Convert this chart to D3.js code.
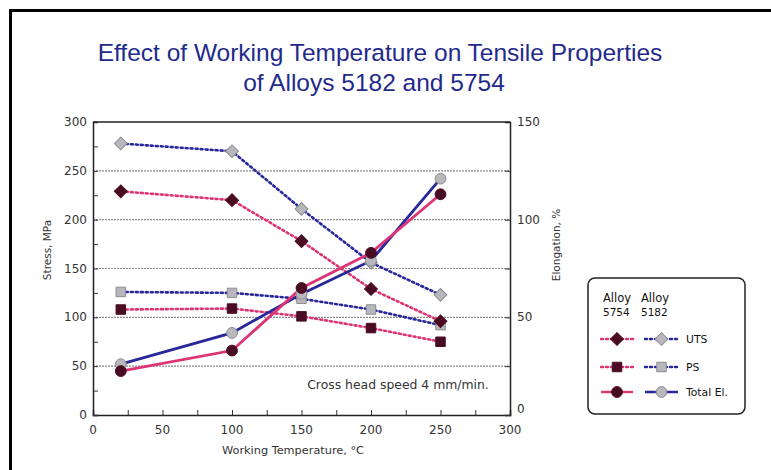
<!DOCTYPE html>
<html><head><meta charset="utf-8">
<script src="https://cdn.jsdelivr.net/npm/d3@7"></script>
<style>body{margin:0;background:#fff}svg{display:block}</style>
</head><body>
<svg id="c" width="771" height="470"></svg>
<script>
const temps = [20, 100, 150, 200, 250];
const uts5182 = [278, 270, 211, 156, 123];
const uts5754 = [229, 220, 178, 129, 96];
const ps5182 = [126, 125, 119, 108, 92];
const ps5754 = [108, 109, 101, 89, 75];
const el5182 = [26, 42, 62, 79, 121];
const el5754 = [22.5, 33, 65, 83, 113];
const xTicks = [0, 50, 100, 150, 200, 250, 300];
const yTicks = [0, 50, 100, 150, 200, 250, 300];
const y2Ticks = [0, 50, 100, 150];

const svg = d3.select("#c");
const font = "Liberation Sans, Arial, sans-serif";
const sfont = "DejaVu Sans, sans-serif";
const L = 93, R = 510, T = 122, B = 415;
const x = d3.scaleLinear().domain([0, 300]).range([L, R]);
const y = d3.scaleLinear().domain([0, 300]).range([B, T]);
const y2 = d3.scaleLinear().domain([0, 150]).range([B, T]);

// outer frame
svg.append("path").attr("d", `M10.5,472 V10.5 H775`).attr("fill","none").attr("stroke","#000").attr("stroke-width",3);

// title
const title = svg.append("text").attr("font-family", font).attr("font-size", 24.5)
  .attr("fill", "#1f2a8c").attr("text-anchor","middle");
title.append("tspan").attr("x",380).attr("y",61).text("Effect of Working Temperature on Tensile Properties");
title.append("tspan").attr("x",374).attr("y",91).text("of Alloys 5182 and 5754");

// gridlines
svg.append("g").selectAll("line").data([50,100,150,200,250]).join("line")
  .attr("x1", L).attr("x2", R).attr("y1", d => y(d)).attr("y2", d => y(d))
  .attr("stroke", "#8a8a8a").attr("stroke-width", 1.2).attr("stroke-dasharray","2,1");

// axes
const gx = svg.append("g").attr("transform", `translate(0,${B})`)
  .call(d3.axisBottom(x).tickValues(d3.range(0,301,25)).tickSize(-5).tickFormat(""));
const gy = svg.append("g").attr("transform", `translate(${L},0)`)
  .call(d3.axisLeft(y).tickValues(d3.range(0,301,25)).tickSize(-5).tickFormat(""));
const gy2 = svg.append("g").attr("transform", `translate(${R},0)`)
  .call(d3.axisRight(y2).tickValues(d3.range(0,151,25)).tickSize(-5).tickFormat(""));
[gx, gy, gy2].forEach(g => { g.selectAll("path").attr("stroke","#222").attr("stroke-width",1.5);
  g.selectAll("line").attr("stroke","#333"); });
svg.append("line").attr("x1",L).attr("x2",R).attr("y1",T).attr("y2",T).attr("stroke","#222").attr("stroke-width",1.5);

// tick labels
const lab = (sel, size) => sel.attr("font-family", sfont).attr("font-size", size || 12).attr("fill", "#333");
lab(svg.append("g").selectAll("text").data(xTicks).join("text")
  .attr("x", d => x(d)).attr("y", B + 19).attr("text-anchor","middle").text(d => d));
lab(svg.append("g").selectAll("text").data(yTicks).join("text")
  .attr("x", L - 6).attr("y", d => y(d) + 4).attr("text-anchor","end").text(d => d));
lab(svg.append("g").selectAll("text").data(y2Ticks).join("text")
  .attr("x", R + 7).attr("y", d => y2(d) + (d===0? -2 : 4)).attr("text-anchor","start").text(d => d));

// axis titles
lab(svg.append("text").attr("x", 293).attr("y", 454).attr("text-anchor","middle"), 11.3).text("Working Temperature, °C");
lab(svg.append("text").attr("transform","translate(51,250) rotate(-90)").attr("text-anchor","middle"), 10.5).text("Stress, MPa");
lab(svg.append("text").attr("transform","translate(560,245) rotate(-90)").attr("text-anchor","middle"), 10.5).text("Elongation, %");

lab(svg.append("text").attr("x", 398).attr("y", 389).attr("text-anchor","middle").attr("fill","#111"), 12.4).text("Cross head speed 4 mm/min.");

// series
const BLUE = "#28289a", PINK = "#dc3474", GRAY = "#b8b8bc", GRAYS = "#8c8c92", DARK = "#4a0c22";
const series = [
  {v: uts5182, sc: y, color: BLUE, dash: "2,3", w: 2.6, mk: "diamond", fill: GRAY, stroke: GRAYS},
  {v: ps5182, sc: y, color: BLUE, dash: "2,3", w: 2.6, mk: "square", fill: GRAY, stroke: GRAYS},
  {v: uts5754, sc: y, color: PINK, dash: "2,3", w: 2.6, mk: "diamond", fill: DARK, stroke: DARK},
  {v: ps5754, sc: y, color: PINK, dash: "2,3", w: 2.6, mk: "square", fill: DARK, stroke: DARK},
  {v: el5182, sc: y2, color: BLUE, dash: null, w: 2.8, mk: "circle", fill: GRAY, stroke: GRAYS},
  {v: el5754, sc: y2, color: PINK, dash: null, w: 2.8, mk: "circle", fill: DARK, stroke: DARK},
];
const symT = {diamond: d3.symbolSquare, square: d3.symbolSquare, circle: d3.symbolCircle};
const symS = {diamond: 82, square: 90, circle: 92};
const symR = {diamond: 45, square: 0, circle: 0};
series.forEach(s => {
  const line = d3.line().x((d,i) => x(temps[i])).y(d => s.sc(d));
  svg.append("path").attr("d", line(s.v)).attr("fill","none").attr("stroke", s.color)
    .attr("stroke-width", s.w).attr("stroke-dasharray", s.dash).attr("stroke-linecap", s.dash ? "round" : "butt");
});
series.forEach(s => {
  svg.append("g").selectAll("path").data(s.v).join("path")
    .attr("transform", (d,i) => `translate(${x(temps[i])},${s.sc(d)}) rotate(${symR[s.mk]})`)
    .attr("d", d3.symbol().type(symT[s.mk]).size(symS[s.mk]))
    .attr("fill", s.fill).attr("stroke", s.stroke).attr("stroke-width", 1);
});

// legend
const lg = svg.append("g");
lg.append("rect").attr("x",588).attr("y",278).attr("width",157).attr("height",136).attr("rx",7)
  .attr("fill","#fff").attr("stroke","#222").attr("stroke-width",1.5);
const lt = (tx, ty, t, size) => lab(lg.append("text").attr("x",tx).attr("y",ty), size).attr("fill","#111").text(t);
lt(603, 302, "Alloy", 11.5); lt(603, 316, "5754", 10.5);
lt(641, 302, "Alloy", 11.5); lt(641, 316, "5182", 10.5);
const legRows = [
  {y: 339, label: "UTS", mk: "diamond", dash: "2,3"},
  {y: 367, label: "PS", mk: "square", dash: "2,3"},
  {y: 392, label: "Total El.", mk: "circle", dash: null},
];
legRows.forEach(r => {
  [[601, 633, PINK, DARK, DARK], [645, 678, BLUE, GRAY, GRAYS]].forEach(([a, b, col, f, st]) => {
    lg.append("line").attr("x1",a).attr("x2",b).attr("y1",r.y).attr("y2",r.y).attr("stroke",col)
      .attr("stroke-width",2.4).attr("stroke-dasharray",r.dash).attr("stroke-linecap", r.dash?"round":"butt");
    lg.append("path").attr("transform",`translate(${(a+b)/2},${r.y}) rotate(${symR[r.mk]})`)
      .attr("d", d3.symbol().type(symT[r.mk]).size(symS[r.mk])).attr("fill",f).attr("stroke",st);
  });
  lt(686, r.y + 4, r.label, 10.8);
});
</script>
</body></html>
